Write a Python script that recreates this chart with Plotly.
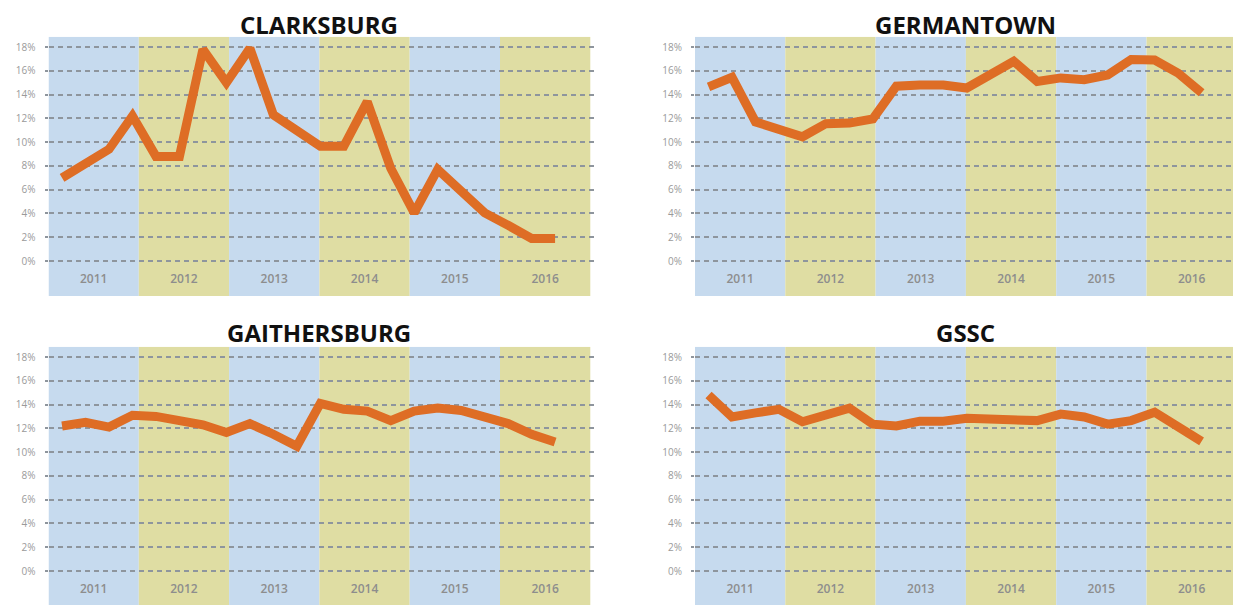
import plotly.graph_objects as go
from plotly.subplots import make_subplots

# ---------------- data ----------------
YEARS = [2011, 2012, 2013, 2014, 2015, 2016]
Y_TICKS = [0, 2, 4, 6, 8, 10, 12, 14, 16, 18]
PANELS = ["CLARKSBURG", "GERMANTOWN", "GAITHERSBURG", "GSSC"]

START = 2011.15   # x position (in years) of the first observation
STEP = 0.26       # spacing between observations (years)

clarksburg = [7.0, 8.2, 9.4, 12.2, 8.8, 8.8, 17.8, 15.0, 17.9, 12.3, 10.9,
              9.65, 9.65, 13.4, 7.8, 4.05, 7.7, 5.85, 4.05, 3.0, 1.9, 1.9]
germantown = [14.65, 15.45, 11.7, 11.1, 10.45, 11.55, 11.6, 11.95, 14.7, 14.8, 14.8,
              14.55, 15.6, 16.8, 15.1, 15.4, 15.25, 15.65, 16.95, 16.9, 15.8, 14.15]
gaithersburg = [12.2, 12.5, 12.1, 13.1, 13.0, 12.6, 12.3, 11.65, 12.4, 11.5, 10.5,
                14.1, 13.6, 13.45, 12.65, 13.45, 13.7, 13.5, 12.95, 12.4, 11.5, 10.85]
gssc = [14.8, 12.95, 13.3, 13.6, 12.55, 13.1, 13.7, 12.35, 12.2, 12.6, 12.6,
        12.85, 12.8, 12.7, 12.65, 13.2, 12.95, 12.35, 12.65, 13.35, 12.2, 10.9]

SERIES = [clarksburg, germantown, gaithersburg, gssc]

# ---------------- style ----------------
WIN_W, WIN_H = 1241, 605
OFF = 8                       # page body margin
W, H = WIN_W - OFF, WIN_H - OFF
BLUE = "#c6daee"
KHAKI = "#dfdda3"
ORANGE = "#de6d25"
GRID = "#8e959d"
TICKTXT = "#9a9a9a"
YEARTXT = "#8d8d8d"

# window pixel geometry of each panel: (left, right, top, bottom)
PIX = [
    (48.5, 596, 36.7, 296),
    (695, 1241, 36.7, 296),
    (48.5, 596, 346.7, 605),
    (695, 1241, 346.7, 605),
]
ZERO_PX = [261, 261, 571, 571]
TITLE_PX = [25, 25, 333, 333]
PX_PER_PCT = 214 / 18.0
PX_PER_YEAR = 90.3


def px_x(p):
    return (p - OFF) / W


def px_y(p):
    return 1 - (p - OFF) / H


fig = make_subplots(rows=2, cols=2)
positions = [(1, 1), (1, 2), (2, 1), (2, 2)]

for i, (name, vals) in enumerate(zip(PANELS, SERIES)):
    r, c = positions[i]
    xs = [START + STEP * k for k in range(len(vals))]
    fig.add_trace(go.Scatter(x=xs, y=vals, mode="lines",
                             line=dict(color=ORANGE, width=9),
                             hoverinfo="skip", showlegend=False), row=r, col=c)
    # year labels inside the plot
    fig.add_trace(go.Scatter(x=[y + 0.5 for y in YEARS], y=[-1.6] * len(YEARS),
                             mode="text", text=[str(y) for y in YEARS],
                             textfont=dict(family="Open Sans", size=12, color=YEARTXT, weight=600),
                             hoverinfo="skip", showlegend=False), row=r, col=c)

    l, rr, t, b = PIX[i]
    axn = "" if i == 0 else str(i + 1)
    x_hi = 2017 + (rr - (l + 6 * PX_PER_YEAR)) / PX_PER_YEAR
    y_hi = 18 + (ZERO_PX[i] - 18 * PX_PER_PCT - t) / PX_PER_PCT
    y_lo = -(b - ZERO_PX[i]) / PX_PER_PCT
    fig.layout["xaxis" + axn].update(domain=[px_x(l), min(1.0, px_x(rr))], range=[2011, x_hi],
                                      showgrid=False, zeroline=False, showticklabels=False,
                                      showline=False, ticks="", fixedrange=True)
    fig.layout["yaxis" + axn].update(domain=[max(0.0, px_y(b)), px_y(t)], range=[y_lo, y_hi],
                                      tickvals=Y_TICKS, ticktext=[f"{v}%" for v in Y_TICKS],
                                      showgrid=True, gridcolor=GRID, gridwidth=2, griddash="5px,4px",
                                      zeroline=False, showline=False,
                                      ticks="outside", ticklen=3, tickwidth=2, tickcolor=GRID,
                                      ticklabelstandoff=7,
                                      tickfont=dict(family="Open Sans", size=10, color=TICKTXT),
                                      fixedrange=True)
    # year bands
    for j, yr in enumerate(YEARS):
        fig.add_shape(type="rect", xref="x" + axn, yref="y" + axn,
                      x0=yr, x1=yr + 1, y0=y_lo, y1=y_hi,
                      fillcolor=BLUE if j % 2 == 0 else KHAKI, line=dict(width=0), layer="below")
    # title
    fig.add_annotation(text=f"<b>{name}</b>", xref="paper", yref="paper",
                       x=px_x((l + l + 6 * PX_PER_YEAR) / 2),
                       y=px_y(TITLE_PX[i]),
                       xanchor="center", yanchor="middle", showarrow=False,
                       font=dict(family="Open Sans", size=24, color="#111111"))

fig.update_layout(width=W, height=H, margin=dict(l=0, r=0, t=0, b=0),
                  paper_bgcolor="white", plot_bgcolor="white", showlegend=False)

fig.write_html("out.html")
